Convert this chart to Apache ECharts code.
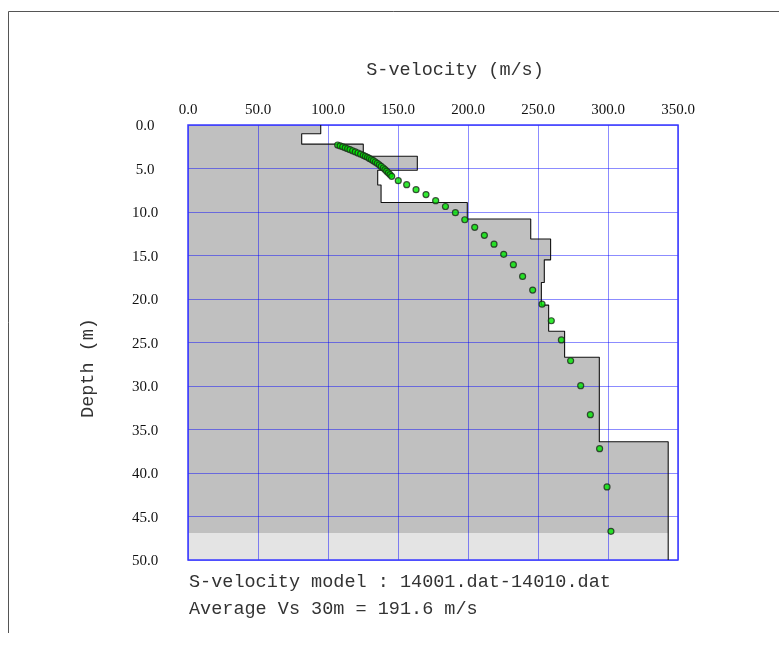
<!DOCTYPE html>
<html>
<head>
<meta charset="utf-8">
<script src="https://cdn.jsdelivr.net/npm/echarts@6/dist/echarts.min.js"></script>
<style>
html,body{margin:0;padding:0;background:#fff;}
#chart{width:779px;height:646px;}
</style>
</head>
<body>
<div id="chart"></div>
<script>
// Layer model: top depth (m), bottom depth (m), S-velocity (m/s)
var layerTops = [0.0, 1.0, 2.2, 3.6, 5.2, 6.9, 8.9, 10.8, 13.1, 15.5, 18.1, 20.7, 23.7, 26.7, 36.4];
var layerBottoms = [1.0, 2.2, 3.6, 5.2, 6.9, 8.9, 10.8, 13.1, 15.5, 18.1, 20.7, 23.7, 26.7, 36.4, 50.0];
var layerVs = [94.8, 81.2, 125.2, 163.8, 135.5, 137.9, 199.5, 244.8, 259.0, 254.5, 252.4, 257.6, 269.0, 293.8, 343.0];
var lowerZoneDepth = 46.9;

// Observed / inverted dispersion points: velocity (m/s), depth (m)
var dotV = [106.9,108.7,110.5,112.3,114.0,115.7,117.6,119.5,121.4,123.3,125.2,126.7,128.2,129.6,131.0,132.4,133.8,135.2,136.6,138.0,139.5,140.7,141.9,143.1,144.3,145.5,
            150.2,156.2,162.9,170.0,176.9,183.9,191.0,197.7,204.8,211.7,218.6,225.5,232.4,239.0,246.2,252.9,259.5,266.7,273.3,280.5,287.4,294.0,299.3,302.1];
var dotD = [2.30,2.40,2.51,2.62,2.73,2.84,2.96,3.09,3.22,3.35,3.48,3.60,3.72,3.84,3.97,4.10,4.25,4.41,4.58,4.76,4.94,5.12,5.31,5.50,5.70,5.90,
            6.40,6.86,7.43,8.00,8.70,9.37,10.08,10.89,11.76,12.68,13.70,14.86,16.06,17.40,18.97,20.60,22.50,24.70,27.10,29.96,33.30,37.20,41.60,46.70];

var xTitle = 'S-velocity (m/s)';
var yTitle = 'Depth (m)';
var noteLine1 = 'S-velocity model : 14001.dat-14010.dat';
var noteLine2 = 'Average Vs 30m = 191.6 m/s';

// step outline points
var stepData = [];
for (var i = 0; i < layerVs.length; i++) {
  stepData.push([layerVs[i], layerTops[i]]);
  stepData.push([layerVs[i], layerBottoms[i]]);
}
// polygons for the two fill zones (upper grey, lower light grey)
function zonePolygon(d0, d1) {
  var pts = [[0, d0]];
  for (var i = 0; i < layerVs.length; i++) {
    var t = Math.max(layerTops[i], d0), b = Math.min(layerBottoms[i], d1);
    if (b <= t) continue;
    pts.push([layerVs[i], t]);
    pts.push([layerVs[i], b]);
  }
  pts.push([0, d1]);
  return pts;
}
var zones = [
  { pts: zonePolygon(0, lowerZoneDepth), color: '#c0c0c0' },
  { pts: zonePolygon(lowerZoneDepth, 50), color: '#e4e4e4' }
];
var dots = dotV.map(function (v, k) { return [v, dotD[k]]; });

var chart = echarts.init(document.getElementById('chart'));
var numFont = '"Liberation Serif", "Times New Roman", serif';
var monoFont = '"Liberation Mono", monospace';
chart.setOption({
  animation: false,
  backgroundColor: '#ffffff',
  grid: {
    left: 188, top: 125, width: 490, height: 435,
    show: true, borderColor: '#3a3aff', borderWidth: 1.5,
    backgroundColor: 'transparent', z: 4
  },
  xAxis: {
    type: 'value', position: 'top', min: 0, max: 350, interval: 50, z: 3,
    axisLine: { show: false }, axisTick: { show: false },
    axisLabel: { margin: 7, fontFamily: numFont, fontSize: 15, color: '#111',
      formatter: function (v) { return v.toFixed(1); } },
    splitLine: { show: true, lineStyle: { color: 'rgba(0,0,255,0.45)', width: 1 } }
  },
  yAxis: {
    type: 'value', inverse: true, min: 0, max: 50, interval: 5, z: 3,
    axisLine: { show: false }, axisTick: { show: false },
    axisLabel: { margin: 43, align: 'center', verticalAlign: 'top', padding: [-6, 0, 0, 0],
      fontFamily: numFont, fontSize: 15, color: '#111',
      formatter: function (v) { return v.toFixed(1); } },
    splitLine: { show: true, lineStyle: { color: 'rgba(0,0,255,0.45)', width: 1 } }
  },
  series: [
    {
      type: 'custom', z: 1, silent: true,
      data: [0, 1],
      renderItem: function (params, api) {
        var z = zones[params.dataIndex];
        return {
          type: 'polygon',
          shape: { points: z.pts.map(function (p) { return api.coord(p); }) },
          style: { fill: z.color, stroke: null }
        };
      }
    },
    {
      type: 'line', z: 5, silent: true, data: stepData,
      showSymbol: false, symbol: 'none',
      lineStyle: { color: '#111', width: 1.1 }
    },
    {
      type: 'scatter', z: 6, silent: true, data: dots,
      symbol: 'circle', symbolSize: 6,
      itemStyle: { color: '#00e600', borderColor: '#1b2b1b', borderWidth: 1.2 }
    }
  ],
  graphic: [
    { type: 'line', silent: true, shape: { x1: 8.5, y1: 11.5, x2: 779, y2: 11.5 }, style: { stroke: '#555', lineWidth: 1 } },
    { type: 'line', silent: true, shape: { x1: 8.5, y1: 11.5, x2: 8.5, y2: 633 }, style: { stroke: '#555', lineWidth: 1 } },
    { type: 'text', x: 455, y: 70, style: { text: xTitle, font: '18.5px ' + monoFont, fill: '#333', align: 'center', verticalAlign: 'middle' } },
    { type: 'text', x: 88, y: 368, rotation: Math.PI / 2, style: { text: yTitle, font: '18.5px ' + monoFont, fill: '#333', align: 'center', verticalAlign: 'middle' } },
    { type: 'text', left: 189, top: 573, style: { text: noteLine1, font: '18.5px ' + monoFont, fill: '#333' } },
    { type: 'text', left: 189, top: 600, style: { text: noteLine2, font: '18.5px ' + monoFont, fill: '#333' } }
  ]
});
</script>
</body>
</html>
